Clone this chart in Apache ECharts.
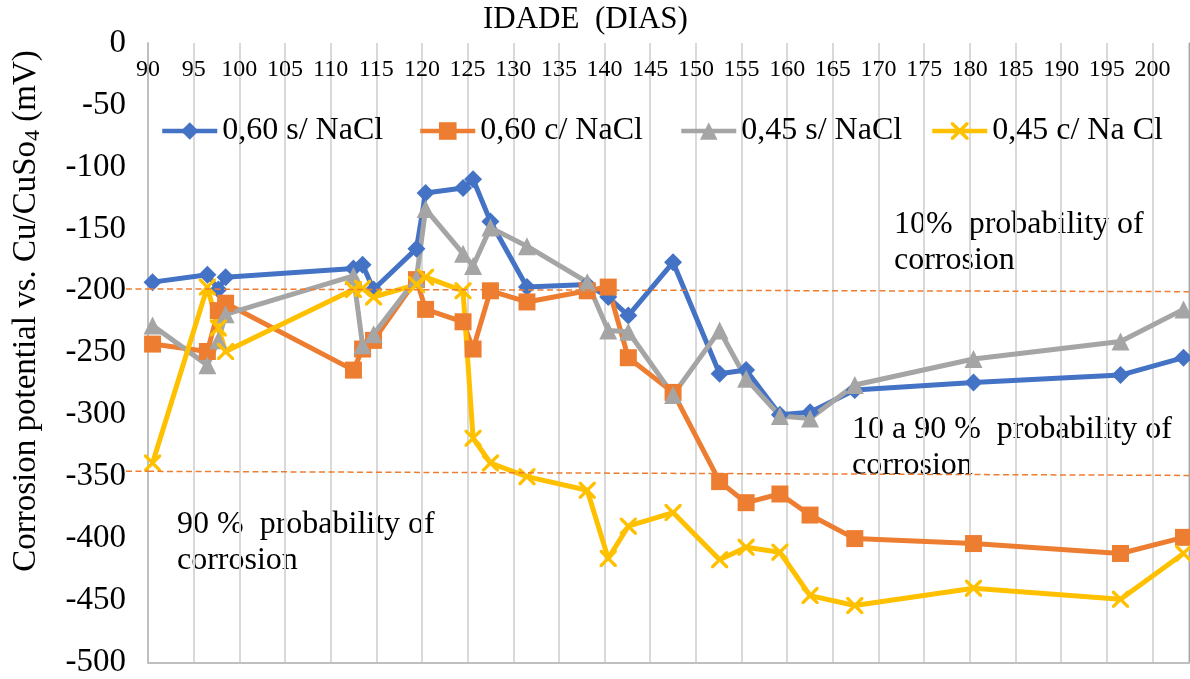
<!DOCTYPE html>
<html>
<head>
<meta charset="utf-8">
<title>Corrosion potential</title>
<script src="https://cdn.jsdelivr.net/npm/echarts@6/dist/echarts.min.js"></script>
<style>
  html, body { margin: 0; padding: 0; background: #fff; }
  #chart { width: 1190px; height: 679px; }
</style>
</head>
<body>
<div id="chart"></div>
<script>
// idade (dias) de cada leitura
const days = [90.5, 96.5, 97.7, 98.5, 112.5, 113.5, 114.7, 119.4, 120.4, 124.5, 125.6, 127.5, 131.5,
  138.1, 140.4, 142.6, 147.5, 152.6, 155.5, 159.2, 162.5, 167.4, 180.4, 196.5, 203.4]

// potenciais (mV)
const s060sem = [-193, -187, -199, -189, -182, -179, -199, -166, -121, -117, -110, -144, -197,
  -195, -205, -220, -177, -267, -264, -300, -298, -280, -274, -268, -254]
const s060com = [-243, -249, -216, -210, -264, -247, -240, -191, -215, -225, -247, -200, -209,
  -200, -197, -254, -282, -354, -371, -364, -381, -400, -404, -412, -399]
const s045sem = [-228, -260, -240, -219, -188, -244, -235, -190, -134, -170, -180, -149, -164,
  -193, -232, -233, -284, -232, -271, -301, -303, -276, -255, -241, -215]
const s045com = [-339, -197, -230, -249, -199, -198, -205, -195, -189, -200, -319, -339, -350,
  -361, -416, -390, -379, -417, -407, -411, -446, -454, -440, -449, -412]

const seriesNames = ['0,60 s/ NaCl', '0,60 c/ NaCl', '0,45 s/ NaCl', '0,45 c/ Na Cl']

// linhas de limite (tracejadas), valor no início e no fim
const limit10 = [-198.5, -200.7]
const limit90 = [-345.7, -349]

const FONT = "'Liberation Serif', 'Times New Roman', serif"
const xSymbol = 'path://M0,0L1.4,0L5,3.6L8.6,0L10,0L10,1.4L6.4,5L10,8.6L10,10L8.6,10L5,6.4L1.4,10L0,10L0,8.6L3.6,5L0,1.4Z'
const dash = { color: '#ED7D31', width: 1.5, type: [6, 3.5] }

function lineSeries(name, values, color, symbol, size) {
  return {
    name: name,
    type: 'line',
    data: days.map((d, i) => [d, values[i]]),
    symbol: symbol,
    symbolSize: size,
    showAllSymbol: true,
    lineStyle: { width: 5, color: color },
    itemStyle: { color: color }
  }
}

const legendLeft = [160, 418, 679, 930]

const yellow = lineSeries(seriesNames[3], s045com, '#FFC000', xSymbol, 17)
yellow.markLine = {
  silent: true,
  symbol: 'none',
  label: { show: false },
  lineStyle: dash,
  data: [
    [{ coord: [90, limit10[0]] }, { coord: [204, limit10[1]] }],
    [{ coord: [90, limit90[0]] }, { coord: [204, limit90[1]] }]
  ]
}

const option = {
  animation: false,
  backgroundColor: '#fff',
  title: {
    text: 'IDADE  (DIAS)',
    left: 483,
    top: 4,
    padding: 0,
    textStyle: { fontFamily: FONT, fontSize: 31, fontWeight: 'normal', color: '#000' }
  },
  legend: seriesNames.map((n, i) => ({
    data: [n],
    left: legendLeft[i],
    top: 115,
    padding: 0,
    itemWidth: 55,
    itemHeight: 22,
    selectedMode: false,
    lineStyle: { width: 4.5 },
    textStyle: { fontFamily: FONT, fontSize: 32, color: '#000' }
  })),
  grid: { left: 148, right: 1, top: 43, bottom: 16 },
  xAxis: [
    {
      type: 'value',
      position: 'top',
      min: 90,
      max: 204,
      interval: 5,
      axisLine: { show: false },
      axisTick: { show: false },
      axisLabel: {
        inside: true,
        margin: 15,
        fontFamily: FONT,
        fontSize: 24,
        color: '#000',
        showMaxLabel: false,
        formatter: v => (v % 5 === 0 ? String(v) : '')
      },
      splitLine: { show: true, lineStyle: { color: '#d9d9d9', width: 2 } }
    },
    {
      type: 'value',
      position: 'bottom',
      min: 90,
      max: 204,
      axisLine: { show: true, onZero: false, lineStyle: { color: '#bfbfbf', width: 2 } },
      axisTick: { show: false },
      axisLabel: { show: false },
      splitLine: { show: false }
    }
  ],
  yAxis: [
    {
      type: 'value',
      min: -500,
      max: 0,
      interval: 50,
      axisLine: { show: true, onZero: false, lineStyle: { color: '#bfbfbf', width: 2 } },
      axisTick: { show: false },
      axisLabel: { fontFamily: FONT, fontSize: 33, color: '#000', margin: 22 },
      splitLine: { show: false }
    },
    {
      type: 'value',
      position: 'right',
      min: -500,
      max: 0,
      axisLine: { show: true, onZero: false, lineStyle: { color: '#a6a6a6', width: 1 } },
      axisTick: { show: false },
      axisLabel: { show: false },
      splitLine: { show: false }
    }
  ],
  graphic: [
    {
      type: 'text',
      x: 27,
      y: 311,
      rotation: Math.PI / 2,
      style: {
        text: '{a|Corrosion potential vs. Cu/CuSo}{b|4}{a| (mV)}',
        align: 'center',
        verticalAlign: 'middle',
        rich: {
          a: { fontFamily: FONT, fontSize: 33, fill: '#000', lineHeight: 35, verticalAlign: 'top' },
          b: { fontFamily: FONT, fontSize: 22, fill: '#000', lineHeight: 14, verticalAlign: 'bottom' }
        }
      }
    },
    {
      type: 'text', x: 894, y: 207,
      style: { text: '10%  probability of\ncorrosion', fontFamily: FONT, fontSize: 32, lineHeight: 36, fill: '#000', verticalAlign: 'top' }
    },
    {
      type: 'text', x: 852, y: 412,
      style: { text: '10 a 90 %  probability of\ncorrosion', fontFamily: FONT, fontSize: 32, lineHeight: 36, fill: '#000', verticalAlign: 'top' }
    },
    {
      type: 'text', x: 177, y: 507,
      style: { text: '90 %  probability of\ncorrosion', fontFamily: FONT, fontSize: 32, lineHeight: 36, fill: '#000', verticalAlign: 'top' }
    }
  ],
  series: [
    lineSeries(seriesNames[0], s060sem, '#4472C4', 'diamond', 18),
    lineSeries(seriesNames[1], s060com, '#ED7D31', 'rect', 17),
    lineSeries(seriesNames[2], s045sem, '#A5A5A5', 'triangle', 18),
    yellow
  ]
}

const chart = echarts.init(document.getElementById('chart'))
chart.setOption(option)

// as linhas tracejadas continuam um pouco à esquerda do eixo
const ext = [limit10[0], limit90[0]].map((v, i) => {
  const p = chart.convertToPixel({ xAxisIndex: 0, yAxisIndex: 0 }, [90, v])
  return {
    type: 'line', id: 'ext' + i, z: 5,
    shape: { x1: p[0] - 22, y1: p[1], x2: p[0], y2: p[1] },
    style: { stroke: dash.color, lineWidth: dash.width, lineDash: dash.type }
  }
})
chart.setOption({ graphic: ext })
</script>
</body>
</html>
